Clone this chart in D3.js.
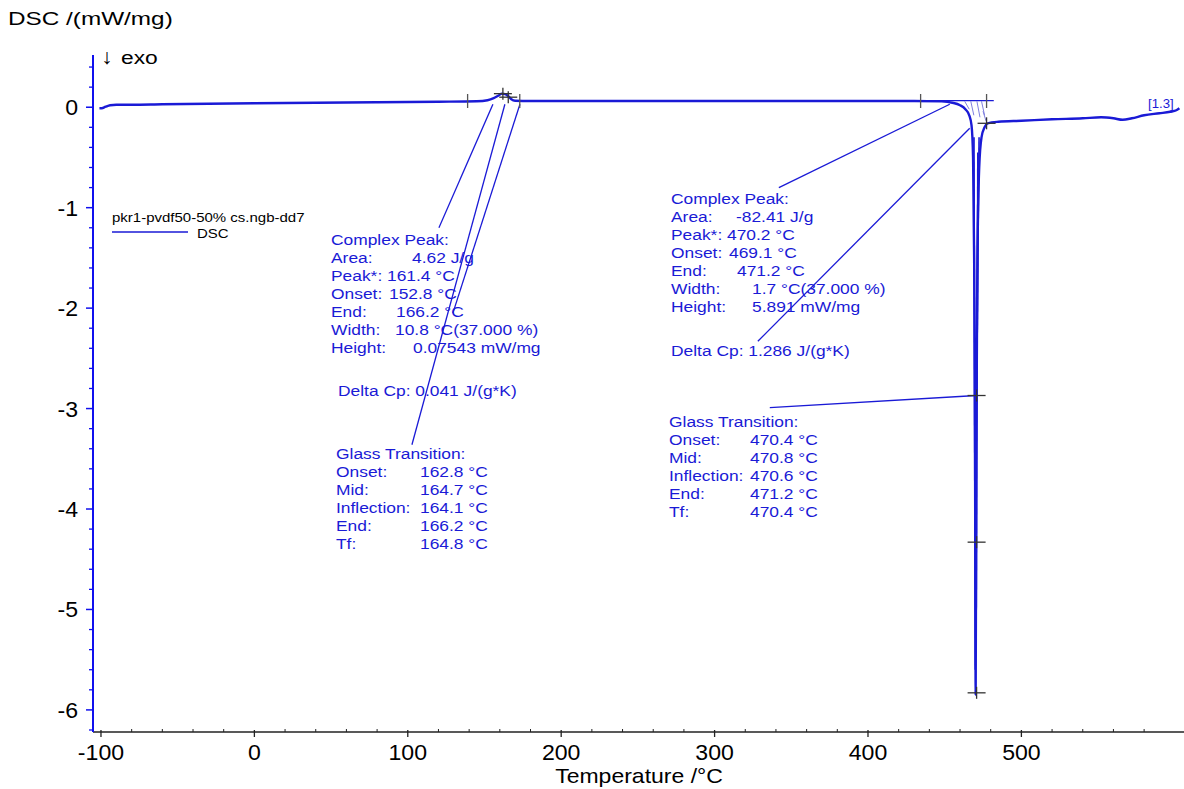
<!DOCTYPE html>
<html lang="en">
<head>
    <meta charset="UTF-8">
    <script src="https://d3js.org/d3.v7.min.js" charset="utf-8"></script>
    <title>DSC curve</title>
    <style>
        body { margin: 0; background: white; }
        text { font-family: "Liberation Sans", Arial, sans-serif; }
    </style>
</head>
<body>
<div id="chart"></div>
<script>
    const width = 1184;
    const height = 789;

    // DSC signal
    const temps = [-101, -99.5, -97, -94, -90, -80, -60, -30, 0, 40, 80, 120, 145, 152, 156, 159, 161.4, 163.5, 165.5, 167.5, 170, 180, 250, 350, 430, 448, 455, 460, 463.5, 466, 467.5, 468.5, 469.2, 469.8, 470.2, 470.6, 471.3, 472.5, 474, 476, 478, 485, 500, 520, 540, 552, 560, 566, 572, 580, 590, 597, 601, 603];
    const dsc = [-0.01, -0.01, 0.005, 0.02, 0.025, 0.025, 0.03, 0.035, 0.04, 0.045, 0.05, 0.055, 0.06, 0.07, 0.09, 0.115, 0.135, 0.13, 0.11, 0.08, 0.065, 0.062, 0.062, 0.062, 0.062, 0.058, 0.045, 0.02, -0.02, -0.08, -0.18, -0.5, -1.5, -3.5, -5.85, -3.5, -1.5, -0.6, -0.3, -0.2, -0.16, -0.145, -0.135, -0.12, -0.11, -0.1, -0.11, -0.125, -0.11, -0.08, -0.06, -0.045, -0.03, -0.01];

    const xTicks = [-100, 0, 100, 200, 300, 400, 500];
    const yTicks = [0, -1, -2, -3, -4, -5, -6];

    // evaluation text
    const peak1Labels = ["Complex Peak:", "Area:", "Peak*:", "Onset:", "End:", "Width:", "Height:"];
    const peak1Values = ["", "4.62 J/g", "161.4 °C", "152.8 °C", "166.2 °C", "10.8 °C(37.000 %)", "0.07543 mW/mg"];
    const peak2Labels = ["Complex Peak:", "Area:", "Peak*:", "Onset:", "End:", "Width:", "Height:"];
    const peak2Values = ["", "-82.41 J/g", "470.2 °C", "469.1 °C", "471.2 °C", "1.7 °C(37.000 %)", "5.891 mW/mg"];
    const glassLabels = ["Glass Transition:", "Onset:", "Mid:", "Inflection:", "End:", "Tf:"];
    const glass1Values = ["", "162.8 °C", "164.7 °C", "164.1 °C", "166.2 °C", "164.8 °C"];
    const glass2Values = ["", "470.4 °C", "470.8 °C", "470.6 °C", "471.2 °C", "470.4 °C"];
    const deltaCp1 = "Delta Cp: 0.041 J/(g*K)";
    const deltaCp2 = "Delta Cp: 1.286 J/(g*K)";

    // pointer lines, [T1, v1, T2, v2]
    const pointers = [
        [155.5, 0.03, 120.3, -1.20],
        [163.3, 0.03, 102.7, -3.36],
        [173.1, 0.03, 129.4, -2.05],
        [453.3, 0.03, 341.9, -0.80],
        [466.3, -0.21, 328.2, -2.33],
        [470.8, -2.87, 336.0, -2.99]
    ];
    // tangents drawn along the big peak, [T1, v1, T2, v2]
    const tangents = [
        [469.1, -0.3, 469.9, -5.6],
        [471.6, -0.45, 470.6, -5.0],
        [472.4, -0.3, 471.0, -2.6]
    ];
    // hatching of the peak area, [T1, v1, T2, v2]
    const hatches = [
        [463, 0.06, 466, -0.02],
        [467, 0.06, 469, -0.08],
        [471, 0.06, 473, -0.1],
        [474, 0.06, 476, -0.08],
        [475, -0.04, 477, -0.14]
    ];
    // baseline limit marks (temperature, value)
    const limitMarks = [[139, 0.062], [173, 0.062], [434.3, 0.062], [477.3, 0.062]];
    // cross marks on the curves
    const crossMarks = [[162, 0.135], [165.5, 0.1], [477.3, -0.16], [470.8, -2.87], [470.8, -4.33], [470.8, -5.83]];

    const blue = "#1a1ad6";
    const axisBlue = "#1010ee";

    const svg = d3.select("#chart").append("svg")
        .attr("width", width)
        .attr("height", height);

    const x = d3.scaleLinear().domain([-105.2, 606]).range([93, 1184]);
    const y = d3.scaleLinear().domain([0.52, -6.22]).range([55, 732]);

    // stretched text like the original export
    const addText = (str, px, py, size, sx, anchor = "start", color = "black") =>
        svg.append("text")
            .attr("transform", `translate(${px},${py}) scale(${sx},1)`)
            .attr("font-size", size)
            .attr("text-anchor", anchor)
            .attr("fill", color)
            .text(str);

    // x axis
    svg.append("line")
        .attr("x1", 93).attr("x2", 1184)
        .attr("y1", y(-6.22)).attr("y2", y(-6.22))
        .attr("stroke", "#222").attr("stroke-width", 1.5);
    const xMinor = d3.range(-100, 601, 20).filter(t => t % 100 !== 0);
    svg.selectAll(".xminor").data(xMinor).enter().append("line")
        .attr("x1", d => x(d)).attr("x2", d => x(d))
        .attr("y1", y(-6.22) - 3).attr("y2", y(-6.22))
        .attr("stroke", "#222");
    svg.selectAll(".xmajor").data(xTicks).enter().append("line")
        .attr("x1", d => x(d)).attr("x2", d => x(d))
        .attr("y1", y(-6.22) - 2).attr("y2", y(-6.22) + 5)
        .attr("stroke", "#222").attr("stroke-width", 1.3);
    xTicks.forEach(t => addText(t, x(t), 760, 22, 1.05, "middle"));
    addText("Temperature /°C", 639, 783, 20, 1.15, "middle");

    // y axis
    svg.append("line")
        .attr("x1", 93).attr("x2", 93)
        .attr("y1", 55).attr("y2", y(-6.22))
        .attr("stroke", axisBlue).attr("stroke-width", 2);
    const yMinor = d3.range(-6.2, 0.45, 0.2).filter(v => Math.abs(v - Math.round(v)) > 0.01);
    svg.selectAll(".yminor").data(yMinor).enter().append("line")
        .attr("x1", 89).attr("x2", 93)
        .attr("y1", d => y(d)).attr("y2", d => y(d))
        .attr("stroke", axisBlue).attr("stroke-width", 1.3);
    svg.selectAll(".ymajor").data(yTicks).enter().append("line")
        .attr("x1", 86).attr("x2", 93)
        .attr("y1", d => y(d)).attr("y2", d => y(d))
        .attr("stroke", axisBlue).attr("stroke-width", 1.5);
    yTicks.forEach(v => addText(v, 78, y(v) + 8, 22, 1.05, "end"));
    addText("DSC /(mW/mg)", 8, 25, 19, 1.28);
    addText("↓", 101, 64, 21, 1.1);
    addText("exo", 121, 64, 19, 1.2);

    // legend
    addText("pkr1-pvdf50-50% cs.ngb-dd7", 112, 222, 12.5, 1.2);
    svg.append("line")
        .attr("x1", 112).attr("x2", 188).attr("y1", 232).attr("y2", 232)
        .attr("stroke", blue).attr("stroke-width", 1.3);
    addText("DSC", 197, 238, 12.5, 1.2);

    // baselines of the evaluated peaks
    svg.append("line")
        .attr("x1", x(434.3)).attr("x2", x(482))
        .attr("y1", y(0.065)).attr("y2", y(0.065))
        .attr("stroke", blue).attr("stroke-width", 1.2);

    // pointer lines
    svg.selectAll(".pointer").data(pointers).enter().append("line")
        .attr("x1", d => x(d[0])).attr("y1", d => y(d[1]))
        .attr("x2", d => x(d[2])).attr("y2", d => y(d[3]))
        .attr("stroke", blue).attr("stroke-width", 1.3);

    svg.selectAll(".hatch").data(hatches).enter().append("line")
        .attr("x1", d => x(d[0])).attr("y1", d => y(d[1]))
        .attr("x2", d => x(d[2])).attr("y2", d => y(d[3]))
        .attr("stroke", "#8080e0").attr("stroke-width", 1);

    svg.selectAll(".tangent").data(tangents).enter().append("line")
        .attr("x1", d => x(d[0])).attr("y1", d => y(d[1]))
        .attr("x2", d => x(d[2])).attr("y2", d => y(d[3]))
        .attr("stroke", blue).attr("stroke-width", 1.6);

    // the curve
    const line = d3.line()
        .x((d, i) => x(temps[i]))
        .y(d => y(d))
        .curve(d3.curveMonotoneX);
    svg.append("path")
        .attr("d", line(dsc))
        .attr("fill", "none")
        .attr("stroke", blue)
        .attr("stroke-width", 2.4);

    // limit and cross marks
    svg.selectAll(".limit").data(limitMarks).enter().append("line")
        .attr("x1", d => x(d[0])).attr("x2", d => x(d[0]))
        .attr("y1", d => y(d[1]) - 7).attr("y2", d => y(d[1]) + 7)
        .attr("stroke", "#555").attr("stroke-width", 1.3);
    const crosses = svg.selectAll(".cross").data(crossMarks).enter().append("g");
    crosses.append("line")
        .attr("x1", d => x(d[0]) - 9).attr("x2", d => x(d[0]) + 9)
        .attr("y1", d => y(d[1])).attr("y2", d => y(d[1]))
        .attr("stroke", "#333").attr("stroke-width", 1.3);
    crosses.append("line")
        .attr("x1", d => x(d[0])).attr("x2", d => x(d[0]))
        .attr("y1", d => y(d[1]) - 6).attr("y2", d => y(d[1]) + 6)
        .attr("stroke", "#333").attr("stroke-width", 1.3);

    addText("[1.3]", 1148, 108, 12, 1.1, "start", blue);

    // evaluation text blocks
    const rowH = 18;
    const drawBlock = (labels, values, left, top, valueDx) => {
        labels.forEach((lab, i) => {
            addText(lab, left, top + i * rowH, 14.5, 1.2, "start", blue);
            if (values[i]) addText(values[i], left + valueDx[i], top + i * rowH, 14.5, 1.2, "start", blue);
        });
    };
    drawBlock(peak1Labels, peak1Values, 331, 245, [0, 81, 56, 58, 65, 64, 82]);
    addText(deltaCp1, 338, 396, 14.5, 1.2, "start", blue);
    drawBlock(glassLabels, glass1Values, 336, 459, [0, 84, 84, 84, 84, 84]);

    drawBlock(peak2Labels, peak2Values, 671, 204, [0, 65, 56, 58, 66, 81, 81]);
    addText(deltaCp2, 671, 356, 14.5, 1.2, "start", blue);
    drawBlock(glassLabels, glass2Values, 669, 427, [0, 81, 81, 81, 81, 81]);
</script>
</body>
</html>
